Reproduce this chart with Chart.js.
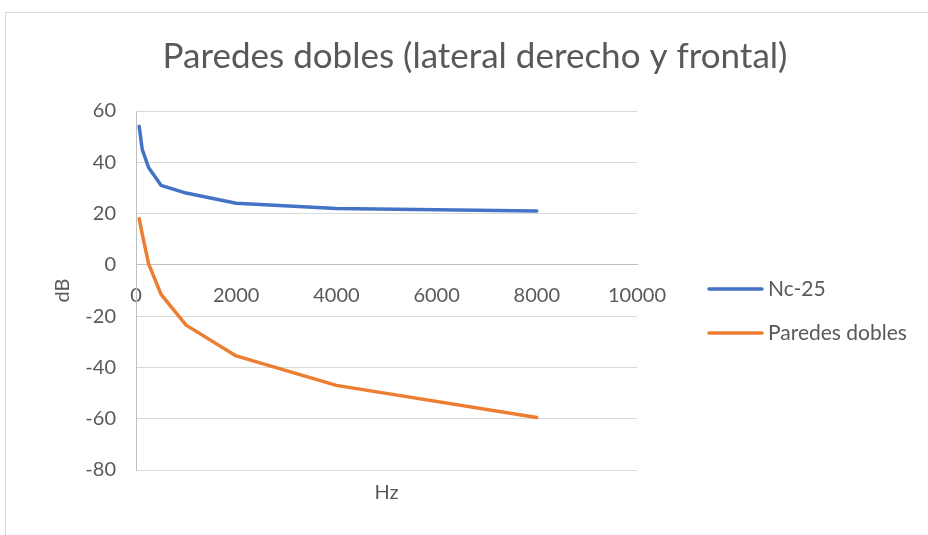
<!DOCTYPE html>
<html>
<head>
<meta charset="utf-8">
<script src="https://cdn.jsdelivr.net/npm/chart.js@4/dist/chart.umd.min.js"></script>
<style>
  html, body { margin: 0; padding: 0; background: #fff; overflow: hidden; }
  #wrap { position: relative; width: 928px; height: 535px; }
  #frame { position: absolute; left: 5px; top: 12px; width: 960px; height: 560px;
           border: 1px solid #d9d9d9; box-sizing: border-box; }
  canvas { position: absolute; left: 0; top: 0; }
</style>
</head>
<body>
<div id="wrap">
  <div id="frame"></div>
  <canvas id="chart" width="928" height="535"></canvas>
</div>
<script>
  // Frequencies (Hz) and levels (dB)
  const freqs    = [63, 125, 250, 500, 1000, 2000, 4000, 8000];
  const nc25     = [54, 45, 38, 31, 28, 24, 22, 21];
  const paredes  = [18, 12, 0.5, -11.5, -23.5, -35.5, -47, -59.5];
  const seriesNames  = ['Nc-25', 'Paredes dobles'];
  const seriesColors = ['#4472c4', '#ed7d31'];
  const titleText = 'Paredes dobles (lateral derecho y frontal)';

  const FONT  = 'Lato, "Open Sans", sans-serif';
  const TEXT  = '#595959';
  const GRID  = '#d9d9d9';
  const AXIS  = '#bfbfbf';

  const toPts = ys => freqs.map((f, i) => ({ x: f, y: ys[i] }));

  // Excel-style title (centred on the whole chart) and side legend
  const excelDecor = {
    id: 'excelDecor',
    afterDraw(chart) {
      const { ctx, chartArea } = chart;
      ctx.save();
      ctx.fillStyle = TEXT;
      ctx.textBaseline = 'middle';
      ctx.textAlign = 'center';
      ctx.font = `35px ${FONT}`;
      ctx.fillText(titleText, 475, 57);

      const x0 = chartArea.right + 72, rowH = 44;
      const y0 = chartArea.top + 178;
      ctx.font = `21px ${FONT}`;
      ctx.textAlign = 'left';
      chart.data.datasets.forEach((ds, i) => {
        const y = y0 + i * rowH;
        ctx.strokeStyle = ds.borderColor;
        ctx.lineWidth = 3.5;
        ctx.lineCap = 'round';
        ctx.beginPath();
        ctx.moveTo(x0, y);
        ctx.lineTo(x0 + 53, y);
        ctx.stroke();
        ctx.fillStyle = TEXT;
        ctx.fillText(ds.label, x0 + 59, y);
      });
      ctx.restore();
    },
  };

  new Chart(document.getElementById('chart'), {
    type: 'line',
    data: {
      datasets: seriesNames.map((name, i) => ({
        label: name,
        data: toPts(i === 0 ? nc25 : paredes),
        borderColor: seriesColors[i], backgroundColor: seriesColors[i],
        borderWidth: 3.5, pointRadius: 0, tension: 0,
        borderCapStyle: 'round', borderJoinStyle: 'round',
      })),
    },
    options: {
      responsive: false,
      animation: false,
      layout: { padding: { left: 23, right: 291, top: 111, bottom: 24 } },
      plugins: {
        title: { display: false },
        legend: { display: false },
        tooltip: { enabled: false },
      },
      scales: {
        x: {
          type: 'linear', position: { y: 0 },
          min: 0, max: 10000,
          ticks: { stepSize: 2000, color: TEXT, font: { family: FONT, size: 20 },
                   padding: 19, maxRotation: 0, callback: v => String(v) },
          grid: { display: false, drawTicks: false },
          border: { color: AXIS, width: 1 },
        },
        xTitle: {
          type: 'linear', position: 'bottom', display: true,
          ticks: { display: false },
          grid: { display: false, drawTicks: false },
          border: { display: false },
          title: { display: true, text: 'Hz', color: TEXT,
                   font: { family: FONT, size: 20 }, padding: { top: 11, bottom: 6 } },
        },
        y: {
          min: -80, max: 60,
          ticks: { stepSize: 20, color: TEXT, font: { family: FONT, size: 20 }, padding: 20 },
          grid: { color: GRID, drawTicks: false },
          border: { color: AXIS, width: 1 },
          title: { display: true, text: 'dB', color: TEXT,
                   font: { family: FONT, size: 20 }, padding: { top: 28, bottom: 0 } },
          afterFit: s => { s.width = 113; },
        },
      },
    },
    plugins: [excelDecor],
  });
</script>
</body>
</html>
